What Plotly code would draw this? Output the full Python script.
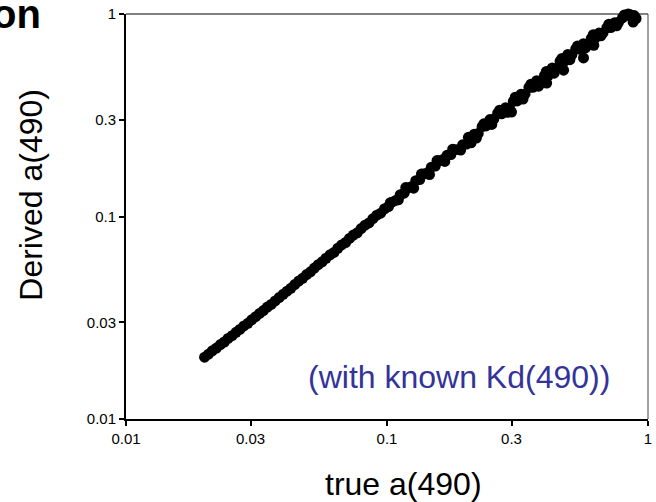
import plotly.graph_objects as go

# true a(490) values (x) and derived a(490) values (y)
true_a = [0.0200, 0.0207, 0.0214, 0.0222, 0.0230, 0.0238, 0.0246, 0.0255, 0.0264, 0.0273,
          0.0283, 0.0293, 0.0303, 0.0314, 0.0325, 0.0336, 0.0348, 0.0360, 0.0373, 0.0386,
          0.0400, 0.0414, 0.0428, 0.0443, 0.0459, 0.0475, 0.0492, 0.0509, 0.0527, 0.0545,
          0.0564, 0.0584, 0.0605, 0.0626, 0.0648, 0.0670, 0.0694, 0.0718, 0.0743, 0.0769,
          0.0796, 0.0824, 0.0853, 0.0883, 0.0914, 0.0946, 0.0979, 0.1013, 0.1049, 0.1085,
          0.1123, 0.1163, 0.1203, 0.1245, 0.1289, 0.1334, 0.1381, 0.1429, 0.1479, 0.1531,
          0.1585, 0.1640, 0.1698, 0.1757, 0.1819, 0.1882, 0.1948, 0.2016, 0.2087, 0.2160,
          0.2236, 0.2314, 0.2395, 0.2479, 0.2566, 0.2655, 0.2748, 0.2844, 0.2944, 0.3047,
          0.3154, 0.3264, 0.3378, 0.3497, 0.3619, 0.3746, 0.3877, 0.4012, 0.4153, 0.4298,
          0.4449, 0.4604, 0.4765, 0.4932, 0.5105, 0.5284, 0.5469, 0.5660, 0.5858, 0.6063,
          0.6276, 0.6495, 0.6723, 0.6958, 0.7202, 0.7454, 0.7715, 0.7985, 0.8264, 0.8553,
          0.8853, 0.4090, 0.4750, 0.5660, 0.8770, 0.9000, 0.8400, 0.3000, 0.2100, 0.6200,
          0.1030, 0.1105, 0.1180, 0.1265, 0.1355, 0.1455, 0.1555, 0.1665, 0.1785, 0.1915,
          0.2050, 0.2200, 0.2350, 0.2520, 0.2700, 0.2895, 0.3100, 0.3320, 0.3560, 0.3810,
          0.4080, 0.4370, 0.4680, 0.5020, 0.5370, 0.5760, 0.6170, 0.6600, 0.7080, 0.7580,
          0.8120, 0.8700]

derived_a = [0.0202, 0.0209, 0.0217, 0.0224, 0.0233, 0.0240, 0.0250, 0.0258, 0.0268, 0.0277,
             0.0288, 0.0297, 0.0309, 0.0320, 0.0332, 0.0343, 0.0357, 0.0368, 0.0383, 0.0398,
             0.0413, 0.0428, 0.0442, 0.0461, 0.0480, 0.0495, 0.0517, 0.0533, 0.0556, 0.0578,
             0.0597, 0.0622, 0.0647, 0.0665, 0.0697, 0.0724, 0.0744, 0.0779, 0.0810, 0.0831,
             0.0872, 0.0906, 0.0930, 0.0976, 0.1015, 0.1039, 0.1092, 0.1119, 0.1180, 0.1204,
             0.1280, 0.1303, 0.1383, 0.1407, 0.1502, 0.1521, 0.1623, 0.1643, 0.1753, 0.1776,
             0.1886, 0.1911, 0.2004, 0.2021, 0.2137, 0.2145, 0.2260, 0.2278, 0.2400, 0.2549,
             0.2571, 0.2777, 0.2802, 0.3012, 0.3028, 0.3239, 0.3215, 0.3441, 0.3430, 0.3702,
             0.3722, 0.4015, 0.4020, 0.4336, 0.4343, 0.4683, 0.4614, 0.4975, 0.4984, 0.5415,
             0.5383, 0.5847, 0.5813, 0.6313, 0.6279, 0.6711, 0.6700, 0.7132, 0.7117, 0.7579,
             0.7594, 0.8054, 0.8068, 0.8558, 0.8570, 0.9057, 0.9104, 0.9582, 0.9834, 0.9921,
             0.9827, 0.4560, 0.5280, 0.6070, 0.9120, 0.9500, 1.0000, 0.3280, 0.2310, 0.7000,
             0.1170, 0.1210, 0.1390, 0.1380, 0.1620, 0.1610, 0.1890, 0.1870, 0.2150, 0.2130,
             0.2460, 0.2440, 0.2870, 0.2850, 0.3350, 0.3270, 0.3880, 0.3800, 0.4500, 0.4400,
             0.5200, 0.5100, 0.6030, 0.5950, 0.6950, 0.6800, 0.7900, 0.7800, 0.8900, 0.8750,
             0.9900, 0.9650]

tick_vals = [0.01, 0.03, 0.1, 0.3, 1]
tick_text = ["0.01", "0.03", "0.1", "0.3", "1"]

FONT = "Liberation Sans, Arial, sans-serif"

fig = go.Figure()
fig.add_trace(go.Scatter(
    x=true_a, y=derived_a, mode="markers",
    marker=dict(color="black", size=11, line=dict(width=0)),
    cliponaxis=False, showlegend=False,
))

axis_common = dict(
    type="log", range=[-2, 0], tickvals=tick_vals, ticktext=tick_text,
    ticks="outside", ticklen=5, tickwidth=1.5, tickcolor="black",
    showline=True, linewidth=2, linecolor="black",
    showgrid=False, zeroline=False, ticklabeloverflow="allow",
    tickfont=dict(family=FONT, size=15, color="black"),
)
fig.update_xaxes(**axis_common)
fig.update_yaxes(**axis_common)

fig.update_layout(
    width=656, height=502,
    margin=dict(l=126, r=4, t=14, b=83),
    paper_bgcolor="white", plot_bgcolor="white",
    font=dict(family=FONT, color="black"),
    shapes=[
        dict(type="line", xref="paper", yref="paper", x0=0, x1=1, y0=1, y1=1,
             line=dict(color="black", width=1)),
        dict(type="line", xref="paper", yref="paper", x0=1, x1=1, y0=0, y1=1,
             line=dict(color="#444444", width=1)),
    ],
    annotations=[
        dict(text="on", xref="paper", yref="paper", x=(42 - 126) / 526, y=1 + 24 / 405,
             xanchor="right", yanchor="top", showarrow=False,
             font=dict(family=FONT, size=40, color="black", weight="bold")),
        dict(text="Derived a(490)", xref="paper", yref="paper", x=(30 - 126) / 526,
             y=(419 - 195) / 405, xanchor="center", yanchor="middle", textangle=-90,
             showarrow=False, font=dict(family=FONT, size=32, color="black")),
        dict(text="true a(490)", xref="paper", yref="paper", x=(406 - 126) / 526,
             y=-(484 - 419) / 405, xanchor="center", yanchor="middle",
             showarrow=False, font=dict(family=FONT, size=32, color="black")),
        dict(text="(with known Kd(490))", xref="paper", yref="paper", x=(462 - 126) / 526,
             y=(419 - 377) / 405, xanchor="center", yanchor="middle",
             showarrow=False, font=dict(family=FONT, size=32, color="#33339a")),
    ],
)

fig.write_html("out.html")
